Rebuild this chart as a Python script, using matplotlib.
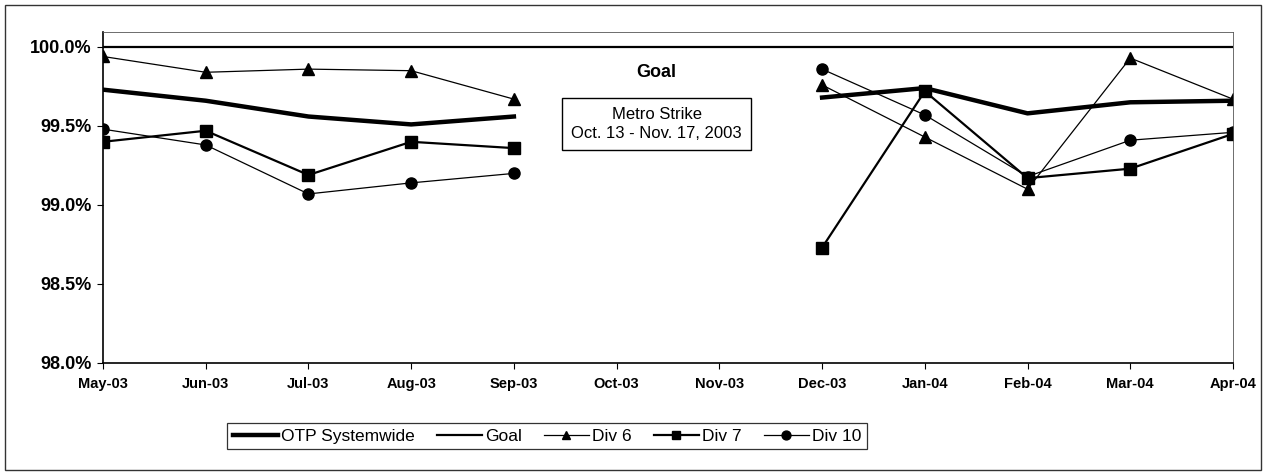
import matplotlib.pyplot as plt
import numpy as np
from matplotlib.ticker import FuncFormatter

months = ['May-03', 'Jun-03', 'Jul-03', 'Aug-03', 'Sep-03', 'Oct-03',
          'Nov-03', 'Dec-03', 'Jan-04', 'Feb-04', 'Mar-04', 'Apr-04']
nan = np.nan
otp = [99.73, 99.66, 99.56, 99.51, 99.56, nan, nan, 99.68, 99.74, 99.58, 99.65, 99.66]
goal = [100.0] * 12
div6 = [99.94, 99.84, 99.86, 99.85, 99.67, nan, nan, 99.76, 99.43, 99.10, 99.93, 99.67]
div7 = [99.40, 99.47, 99.19, 99.40, 99.36, nan, nan, 98.73, 99.72, 99.17, 99.23, 99.45]
div10 = [99.48, 99.38, 99.07, 99.14, 99.20, nan, nan, 99.86, 99.57, 99.18, 99.41, 99.46]
yticks = [98.0, 98.5, 99.0, 99.5, 100.0]

plt.rcParams['font.family'] = ['Liberation Sans', 'DejaVu Sans']

fig = plt.figure(figsize=(12.65, 4.76), dpi=100)
ax = fig.add_axes([0.0814, 0.2374, 0.8933, 0.6954])

x = np.arange(len(months))
ax.plot(x, otp, color='black', lw=3.2, label='OTP Systemwide')
ax.plot(x, goal, color='black', lw=1.6, label='Goal')
ax.plot(x, div6, color='black', lw=0.9, marker='^', ms=8, label='Div 6')
ax.plot(x, div7, color='black', lw=1.6, marker='s', ms=8, label='Div 7')
ax.plot(x, div10, color='black', lw=0.9, marker='o', ms=8, label='Div 10')

ax.set_xlim(0, len(months) - 1)
ax.set_ylim(98.0, 100.095)
ax.set_yticks(yticks)
ax.yaxis.set_major_formatter(FuncFormatter(lambda v, p: f'{v:.1f}%'))
ax.set_xticks(x)
ax.set_xticklabels(months, fontweight='bold', fontsize=10.5)
for lab in ax.get_yticklabels():
    lab.set_fontweight('bold')
    lab.set_fontsize(13)
ax.tick_params(axis='y', length=4, width=0.8, pad=4)
ax.tick_params(axis='x', length=4, width=0.8, pad=6)
for side in ['left', 'bottom']:
    ax.spines[side].set_linewidth(1.2)
for side in ['top', 'right']:
    ax.spines[side].set_linewidth(0.6)
    ax.spines[side].set_color('#555555')

ax.text(0.49, 0.879, 'Goal', transform=ax.transAxes, ha='center', va='center',
        fontsize=13, fontweight='bold')
ax.text(0.49, 0.722, 'Metro Strike\nOct. 13 - Nov. 17, 2003', transform=ax.transAxes,
        ha='center', va='center', fontsize=12, linespacing=1.35,
        bbox=dict(boxstyle='square,pad=0.55', fc='white', ec='black', lw=1))

leg = fig.legend(loc='center', bbox_to_anchor=(0.4325, 0.084), ncol=5, fontsize=12.5,
                 frameon=True, fancybox=False, edgecolor='black', handlelength=2.6,
                 handletextpad=0.2, columnspacing=1.25, borderpad=0.3, markerscale=0.8)
leg.get_frame().set_linewidth(0.9)

fig.patches.append(plt.Rectangle((0.004, 0.012), 0.993, 0.978, transform=fig.transFigure,
                                 fill=False, ec='#333333', lw=1.0))

fig.savefig('out.png', dpi=100)
